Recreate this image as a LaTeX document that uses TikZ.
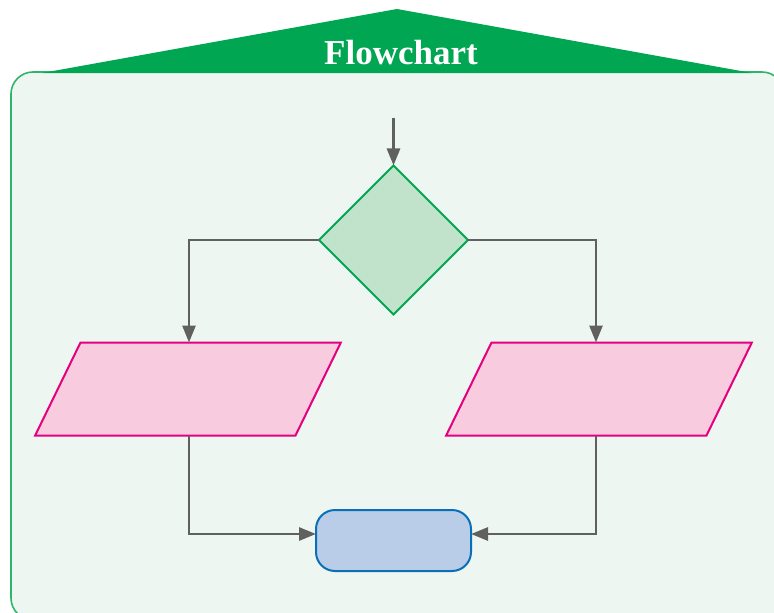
\documentclass[tikz,border=0pt]{standalone}
\usepackage{fontspec}
\setmainfont{Liberation Serif}
\usetikzlibrary{arrows.meta, positioning, shapes.geometric}

\definecolor{roofgreen}{RGB}{0,166,81}
\definecolor{panelfill}{RGB}{238,246,241}
\definecolor{panelline}{RGB}{45,182,106}
\definecolor{decfill}{RGB}{193,227,203}
\definecolor{iofill}{RGB}{248,203,223}
\definecolor{ioline}{RGB}{228,0,126}
\definecolor{termfill}{RGB}{185,205,233}
\definecolor{termline}{RGB}{10,111,184}
\definecolor{arrgray}{RGB}{96,96,96}

\begin{document}
\begin{tikzpicture}[
    x=1pt, y=1pt,
    every node/.style={inner sep=0pt, outer sep=0pt},
    decision/.style={diamond, draw=roofgreen, fill=decfill, line width=2pt, minimum width=149pt, minimum height=149pt},
    iobox/.style={trapezium, trapezium left angle=64, trapezium right angle=116, inner xsep=107.5pt, inner ysep=46.5pt, draw=ioline, fill=iofill, line width=2pt},
    termbox/.style={rectangle, rounded corners=19pt, draw=termline, fill=termfill, line width=2pt, minimum width=155pt, minimum height=61pt},
    arr/.style={draw=arrgray, line width=2.8pt, -{Triangle[length=17pt, width=13pt]}}
]

    \clip (0,0) rectangle (774,-613);

    % Panel and roof
    \draw[panelline, fill=panelfill, line width=1.6pt, rounded corners=22pt] (11,-72) rectangle (784,-620);
    \fill[roofgreen] (42,-73) -- (397,-9) -- (752,-73) -- cycle;
    \node[text=white, font=\fontsize{35}{40}\selectfont\bfseries, anchor=base] (title) at (401,-64) {Flowchart};

    % Nodes
    \node[decision] (dec) at (393.5,-240) {};
    \coordinate[above=48pt of dec] (start);
    \node[iobox, below=28pt of dec, xshift=-205.5pt] (left) {};
    \node[iobox, below=28pt of dec, xshift=205.5pt] (right) {};
    \node[termbox] (stop) at (393.5,-540.5) {};

    % Arrows
    \draw[arr] (start) -- (dec);
    \draw[arr] (dec.west) -| ([xshift=1pt]left.north);
    \draw[arr] (dec.east) -| ([xshift=-3pt]right.north);
    \draw[arr] ([xshift=1pt]left.south) |- ([yshift=6.5pt]stop.west);
    \draw[arr] ([xshift=-3pt]right.south) |- ([yshift=6.5pt]stop.east);
\end{tikzpicture}
\end{document}
